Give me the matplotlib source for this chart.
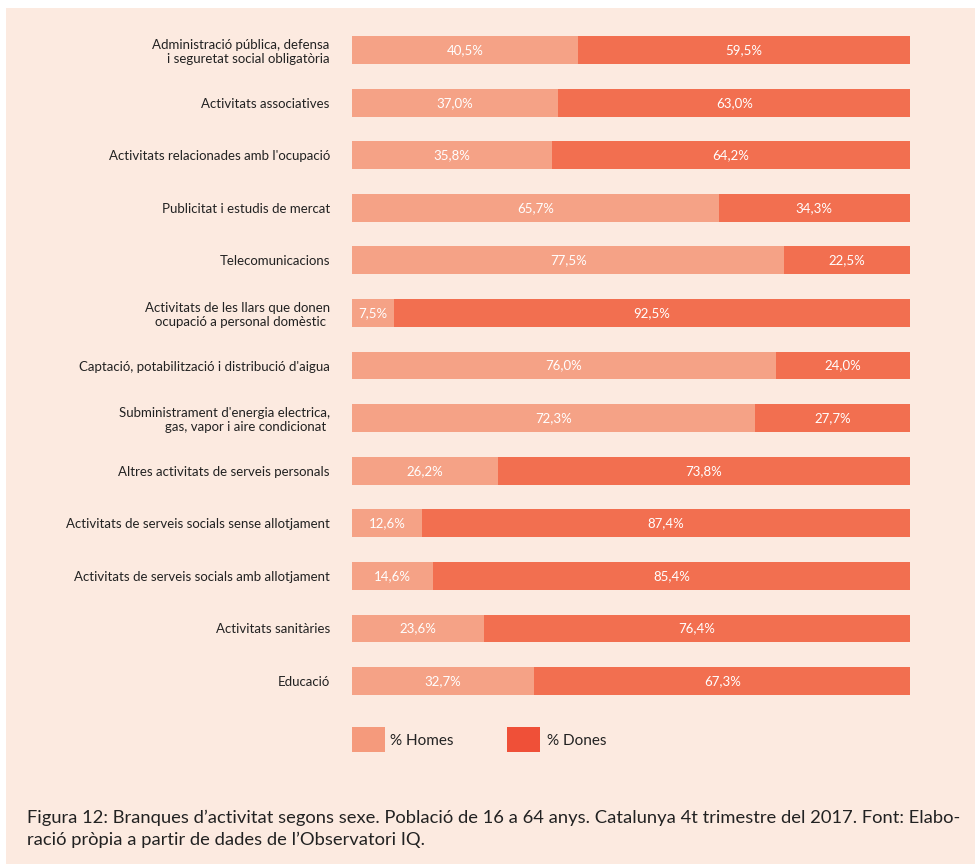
import matplotlib.pyplot as plt
from matplotlib.patches import Rectangle

plt.rcParams['font.family'] = ['Lato', 'DejaVu Sans']

# Data (top to bottom)
categories = [
    "Administració pública, defensa\ni seguretat social obligatòria",
    "Activitats associatives",
    "Activitats relacionades amb l'ocupació",
    "Publicitat i estudis de mercat",
    "Telecomunicacions",
    "Activitats de les llars que donen\nocupació a personal domèstic ",
    "Captació, potabilització i distribució d'aigua",
    "Subministrament d'energia electrica,\ngas, vapor i aire condicionat ",
    "Altres activitats de serveis personals",
    "Activitats de serveis socials sense allotjament",
    "Activitats de serveis socials amb allotjament",
    "Activitats sanitàries",
    "Educació",
]
homes = [40.5, 37.0, 35.8, 65.7, 77.5, 7.5, 76.0, 72.3, 26.2, 12.6, 14.6, 23.6, 32.7]
dones = [59.5, 63.0, 64.2, 34.3, 22.5, 92.5, 24.0, 27.7, 73.8, 87.4, 85.4, 76.4, 67.3]

c_homes = '#F5A286'
c_dones = '#F26F50'
bg = '#FCEAE0'

W, H = 975, 864
fig = plt.figure(figsize=(W / 100, H / 100), dpi=100)
fig.patch.set_facecolor('white')
fig.patches.append(Rectangle((6 / W, 0), 1 - 6 / W, 1 - 8 / H, transform=fig.transFigure,
                             facecolor=bg, edgecolor='none', zorder=-5))

ax = fig.add_axes([352 / W, 1 - 707.3 / H, 558 / W, 683.5 / H])
ax.set_facecolor('none')
y = list(range(len(categories)))
ax.barh(y, homes, height=0.53, color=c_homes)
ax.barh(y, dones, left=homes, height=0.53, color=c_dones)
for i, (h, d) in enumerate(zip(homes, dones)):
    ax.text(h / 2, i, f"{h:.1f}%".replace('.', ','), ha='center', va='center',
            color='white', fontsize=9.5)
    ax.text(h + d / 2, i, f"{d:.1f}%".replace('.', ','), ha='center', va='center',
            color='white', fontsize=9.5)

ax.set_xlim(0, 100)
ax.set_ylim(len(categories) - 0.5, -0.5)
ax.set_yticks(y)
ax.set_yticklabels(categories, fontsize=9.5, color='#222222', ha='right')
ax.tick_params(axis='y', length=0, pad=16)
ax.set_xticks([])
for s in ax.spines.values():
    s.set_visible(False)

# legend
fig.patches.append(Rectangle((352 / W, 1 - 752 / H), 33 / W, 25 / H, transform=fig.transFigure,
                             facecolor='#F59A7C', edgecolor='none'))
fig.text(390 / W, 1 - 741 / H, "% Homes", fontsize=11, va='center', color='#222222')
fig.patches.append(Rectangle((507 / W, 1 - 752 / H), 33 / W, 25 / H, transform=fig.transFigure,
                             facecolor='#EF5038', edgecolor='none'))
fig.text(547 / W, 1 - 741 / H, "% Dones", fontsize=11, va='center', color='#222222')

# caption
fig.text(27 / W, 1 - 818 / H,
         "Figura 12: Branques d’activitat segons sexe. Població de 16 a 64 anys. Catalunya 4t trimestre del 2017. Font: Elabo-",
         fontsize=13.2, va='center', color='#222222')
fig.text(27 / W, 1 - 840 / H, "ració pròpia a partir de dades de l’Observatori IQ.",
         fontsize=13.2, va='center', color='#222222')

fig.savefig('out.png', dpi=100, facecolor=fig.get_facecolor())
